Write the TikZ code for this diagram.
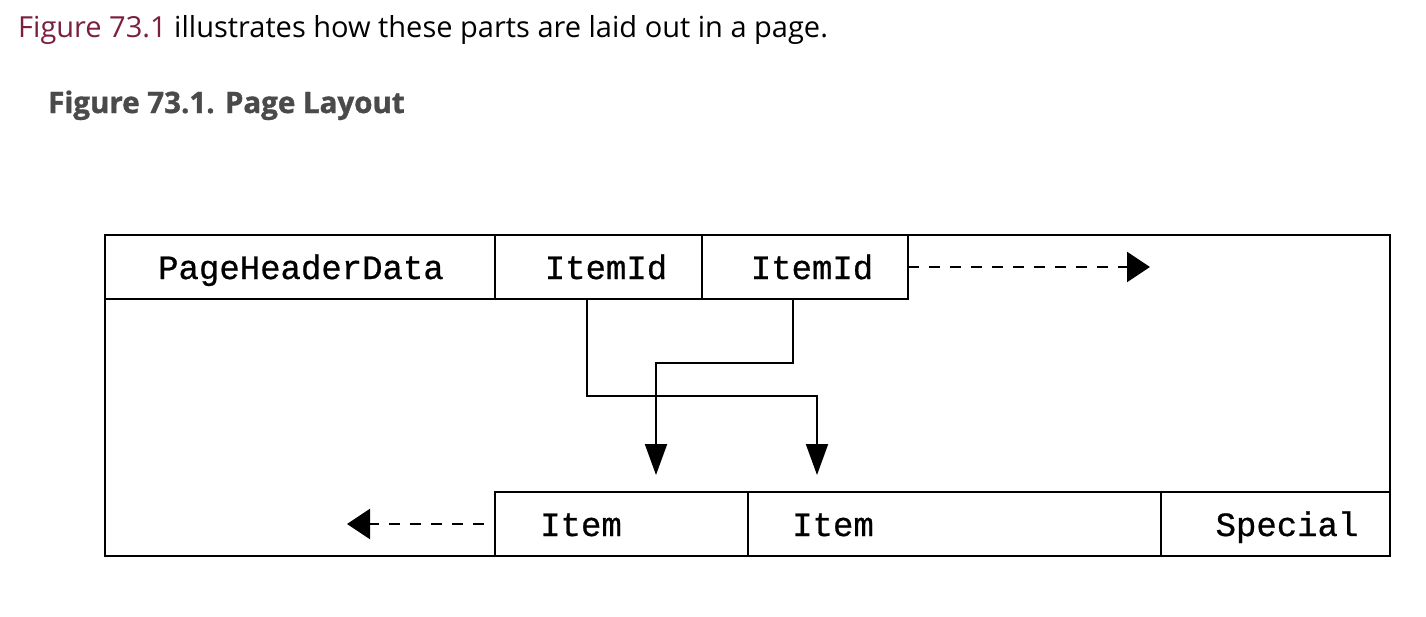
\documentclass[tikz,border=0pt]{standalone}
\usepackage{fontspec}
\setmainfont{Open Sans}
\newfontfamily\monof{Liberation Mono}[BoldFont=Liberation Mono, BoldFeatures={FakeBold=0.7}]
\newfontfamily\capf{Open Sans}[UprightFont=* Bold, UprightFeatures={FakeBold=1.2}]
\usetikzlibrary{arrows.meta}
\definecolor{figred}{HTML}{7A1F3D}
\definecolor{capgrey}{HTML}{4A4A4A}
\begin{document}
\begin{tikzpicture}[x=1pt,y=-1pt,
  cell/.style={draw, line width=2pt, inner sep=0pt, outer sep=0pt, anchor=north west},
  lbl/.style={font=\monof\bfseries\fontsize{34}{34}\selectfont, anchor=base, inner sep=0pt},
  conn/.style={line width=2pt, -{Triangle[length=31pt,width=22pt]}},
  dasharrow/.style={line width=2.2pt, dash pattern=on 11pt off 10pt, -{Triangle[length=23pt,width=30pt]}},
  prose/.style={anchor=base west, inner sep=0pt, font=\fontsize{29}{33}\selectfont},
  caption/.style={anchor=base west, inner sep=0pt, text=capgrey, font=\capf\fontsize{29.5}{33}\selectfont}]
\useasboundingbox (0,0) rectangle (1426,616);

% intro sentence and figure caption
\node[prose] (intro) at (18,37) {\textcolor{figred}{Figure 73.1} illustrates how these parts are laid out in a page.};
\node[caption] (cap) at (48,113) {Figure 73.1. Page Layout};

% page outline and cells
\node[cell, minimum width=1285pt, minimum height=321pt] (page) at (105,235) {};
\node[cell, minimum width=390pt, minimum height=64pt] (hdr) at (105,235) {};
\node[cell, minimum width=207pt, minimum height=64pt] (id1) at (495,235) {};
\node[cell, minimum width=206pt, minimum height=64pt] (id2) at (702,235) {};
\node[cell, minimum width=253pt, minimum height=64pt] (it1) at (495,492) {};
\node[cell, minimum width=413pt, minimum height=64pt] (it2) at (748,492) {};
\node[cell, minimum width=229pt, minimum height=64pt] (sp) at (1161,492) {};

% cell labels
\node[lbl] (hdrt) at (301,279) {PageHeaderData};
\node[lbl] (id1t) at (606,279) {ItemId};
\node[lbl] (id2t) at (812,279) {ItemId};
\node[lbl] (it1t) at (581,536) {Item};
\node[lbl] (it2t) at (833,536) {Item};
\node[lbl] (spt) at (1287,536) {Special};

% routing points of the item pointers
\coordinate (p1) at (587,396);
\coordinate (q1) at (817,475);
\coordinate (p2) at (793,363);
\coordinate (q2) at (656,475);

\draw[conn] (id1.south -| p1) |- (q1 |- p1) -- (q1);
\draw[conn] (id2.south -| p2) |- (q2 |- p2) -- (q2);

% growth directions
\coordinate (grow1) at (1150,267);
\coordinate (grow2) at (347,524);
\coordinate (start2) at (484,524);
\draw[dasharrow] (id2.east) -- (grow1);
\draw[dasharrow] (start2) -- (grow2);
\end{tikzpicture}
\end{document}
